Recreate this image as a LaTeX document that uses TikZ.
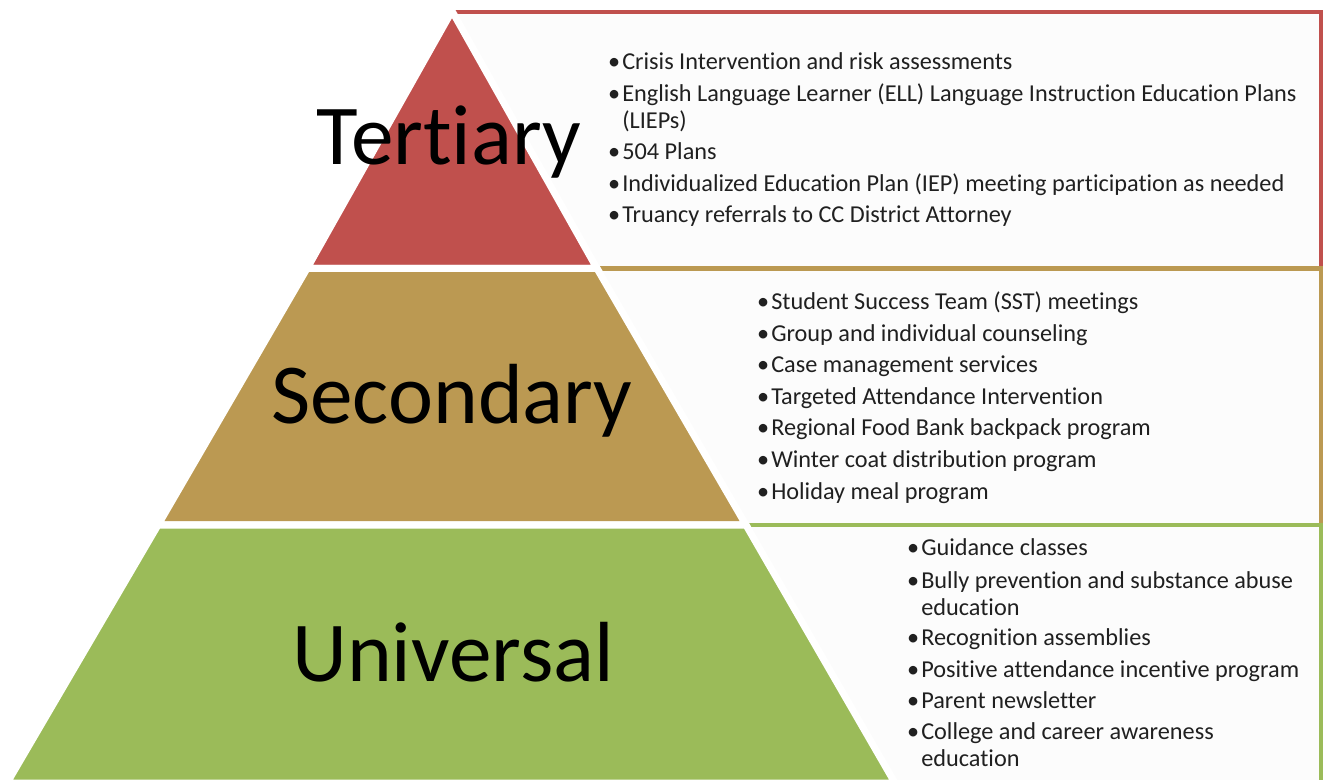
\documentclass[tikz,border=0pt]{standalone}
\usepackage{fontspec}
\setmainfont{Carlito}[Ligatures=NoCommon]
\definecolor{tred}{RGB}{192,80,77}
\definecolor{ttan}{RGB}{187,153,82}
\definecolor{tgreen}{RGB}{155,187,89}
\definecolor{boxfill}{RGB}{252,252,252}
\definecolor{txt}{RGB}{32,32,32}
\tikzset{
  tierbox/.style={fill=boxfill, line width=3.5pt},
  piece/.style={draw=white, line width=5.25pt, line join=miter},
  biglabel/.style={anchor=base, inner sep=0pt, font=\fontsize{64}{70}\selectfont, text=black},
  item/.style={anchor=base west, inner sep=0pt, font=\fontsize{18.2}{22}\selectfont, text=txt},
}
\newcommand{\bul}{\llap{\textbullet\hspace{1.5pt}}}
\begin{document}
\begin{tikzpicture}[x=0.75pt,y=-0.75pt]
\useasboundingbox (0,0) rectangle (1325,780);
% boxes
\draw[tierbox, draw=tred] (452,12) rectangle (1321,268.5);
\draw[tierbox, draw=ttan] (597,268.5) rectangle (1321,525);
\draw[tierbox, draw=tgreen] (746,525) rectangle (1321,782);
% pyramid pieces
\path[piece, fill=tred] (452,11) -- (597,268.5) -- (307,268.5) -- cycle;
\path[piece, fill=ttan] (307,268.5) -- (597,268.5) -- (746,525) -- (158,525) -- cycle;
\path[piece, fill=tgreen] (158,525) -- (746,525) -- (895,783) -- (7,783) -- cycle;
% labels
\node[biglabel] (lt) at (449,165) {Tertiary};
\node[biglabel] (ls) at (452,424) {Secondary};
\node[biglabel] (lu) at (453,681) {Universal};
% tertiary items
\node[item] (t1) at (622,70) {\bul Crisis Intervention and risk assessments};
\node[item] (t2) at (622,102) {\bul English Language Learner (ELL) Language Instruction Education Plans};
\node[item] (t2b) at (622,129) {(LIEPs)};
\node[item] (t3) at (622,160) {\bul 504 Plans};
\node[item] (t4) at (622,192) {\bul Individualized Education Plan (IEP) meeting participation as needed};
\node[item] (t5) at (622,223) {\bul Truancy referrals to CC District Attorney};
% secondary items
\node[item] (s1) at (771,310) {\bul Student Success Team (SST) meetings};
\node[item] (s2) at (771,341.5) {\bul Group and individual counseling};
\node[item] (s3) at (771,373) {\bul Case management services};
\node[item] (s4) at (771,404.5) {\bul Targeted Attendance Intervention};
\node[item] (s5) at (771,436) {\bul Regional Food Bank backpack program};
\node[item] (s6) at (771,467.5) {\bul Winter coat distribution program};
\node[item] (s7) at (771,499) {\bul Holiday meal program};
% universal items
\node[item] (u1) at (921,556) {\bul Guidance classes};
\node[item] (u2) at (921,588) {\bul Bully prevention and substance abuse};
\node[item] (u2b) at (921,615) {education};
\node[item] (u3) at (921,645) {\bul Recognition assemblies};
\node[item] (u4) at (921,677) {\bul Positive attendance incentive program};
\node[item] (u5) at (921,708) {\bul Parent newsletter};
\node[item] (u6) at (921,739) {\bul College and career awareness};
\node[item] (u6b) at (921,766) {education};
\end{tikzpicture}
\end{document}
